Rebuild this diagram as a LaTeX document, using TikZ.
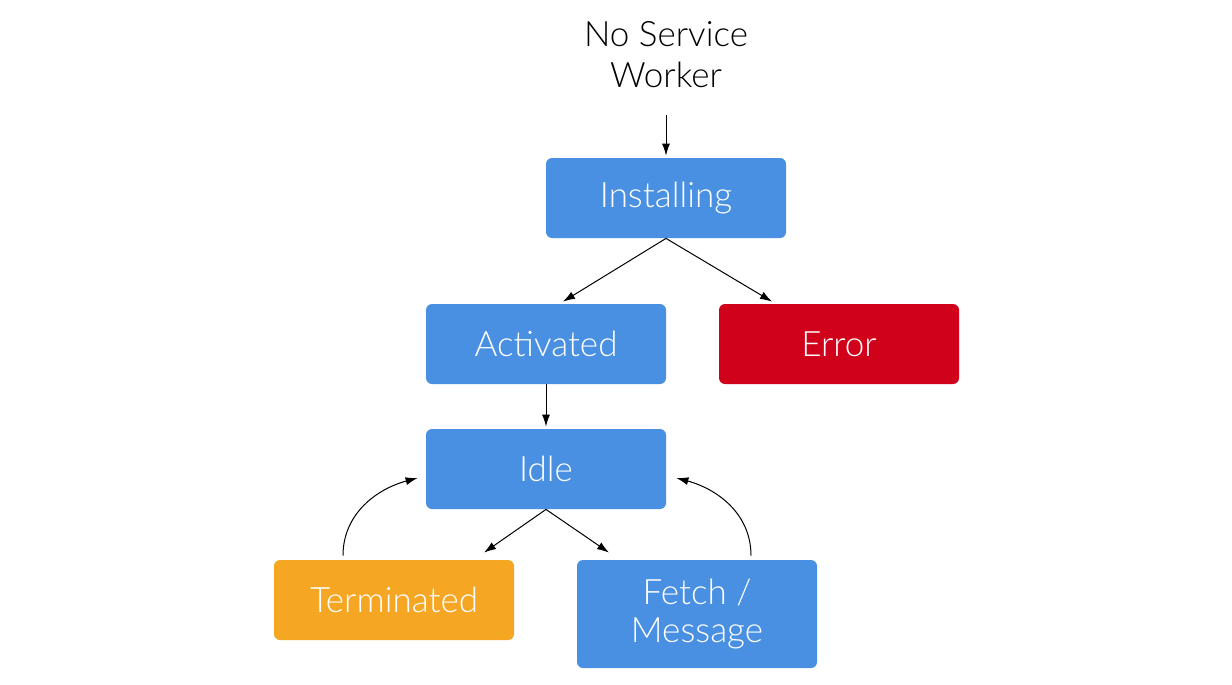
\documentclass[tikz,border=0pt]{standalone}
\usepackage{fontspec}
\setmainfont{Lato}[UprightFont=* Light]
\usetikzlibrary{arrows.meta,calc}
\definecolor{sblue}{RGB}{74,144,226}
\definecolor{sred}{RGB}{208,2,27}
\definecolor{sorange}{RGB}{245,166,35}
\tikzset{
  stbox/.style={rectangle, rounded corners=3pt, minimum width=120pt, minimum height=40pt,
    inner sep=0pt, text=white, font=\fontsize{17.5}{20}\selectfont, align=center},
  conn/.style={-{Latex[length=6pt,width=4pt]}, line width=0.5pt, black},
}
\begin{document}
\begin{tikzpicture}[x=0.5pt,y=-0.5pt]
\useasboundingbox (0,0) rectangle (1232,685);
\node[font=\fontsize{17.5}{20.5}\selectfont, align=center] (nsw) at (666,55) {No Service\\Worker};
\node[stbox, fill=sblue] (inst) at (666,198) {Installing};
\node[stbox, fill=sblue] (act) at (546,344) {Activated};
\node[stbox, fill=sred] (err) at (839,344) {Error};
\node[stbox, fill=sblue] (idle) at (546,469) {Idle};
\node[stbox, fill=sorange] (term) at (394,600) {Terminated};
\node[stbox, fill=sblue, minimum height=54pt, font=\fontsize{17.5}{19}\selectfont] (fetch) at (697,614) {Fetch /\\Message};
\coordinate (top) at (666,115);
\draw[conn] (top) -- ([yshift=1pt]inst.north);
\draw[conn] (inst.south) -- ($(act.north)+(17,-2)$);
\draw[conn] (inst.south) -- ($(err.north)+(-67,-2)$);
\draw[conn] (act.south) -- ($(idle.north)+(0,-2)$);
\draw[conn] (idle.south) -- ($(term.north)+(90,-7)$);
\draw[conn] (idle.south) -- ($(fetch.north)+(-88,-7)$);
\draw[conn] ($(term.north)+(-51,-4)$) to[out=90,in=195] ($(idle.west)+(-8,9)$);
\draw[conn] ($(fetch.north)+(54,-4)$) to[out=90,in=-15] ($(idle.east)+(10,9)$);
\end{tikzpicture}
\end{document}
